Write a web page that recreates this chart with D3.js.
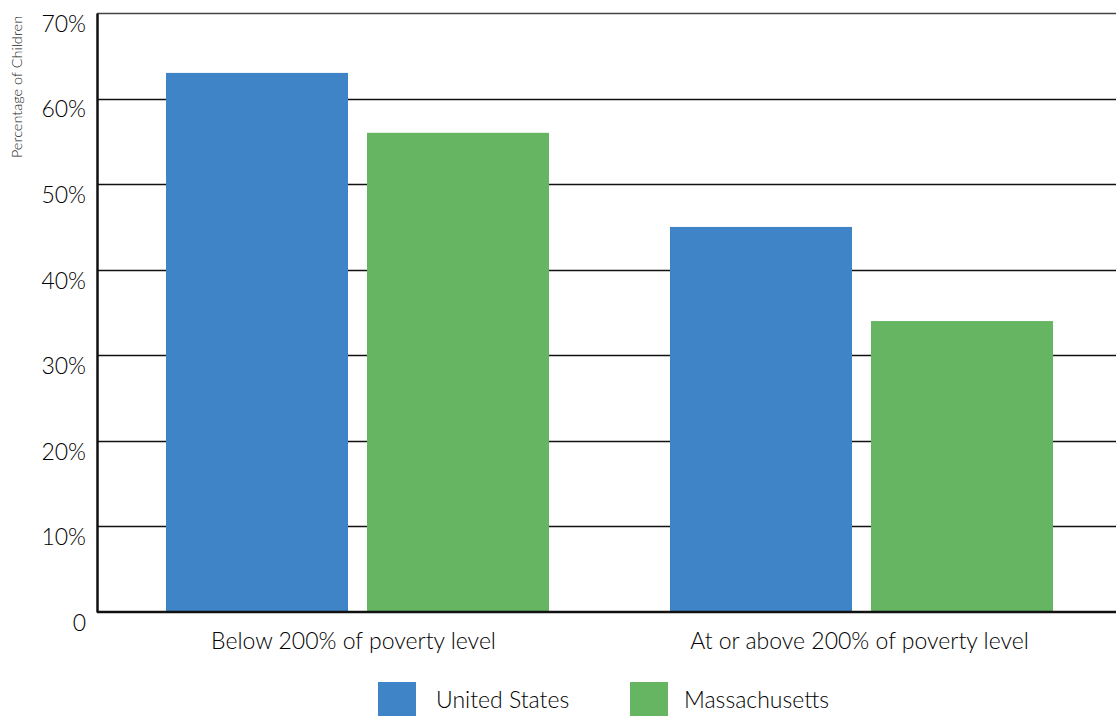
<!DOCTYPE html>
<html>
<head>
<meta charset="utf-8">
<script src="https://cdn.jsdelivr.net/npm/d3@7"></script>
<style>
  html, body { margin: 0; padding: 0; background: #fff; }
  svg { display: block; font-family: "Lato", "Open Sans", sans-serif; font-weight: 300; }
</style>
</head>
<body>
<svg id="chart" width="1117" height="716"></svg>
<script>
// Share of children, by family income relative to the poverty level
const categories = ["Below 200% of poverty level", "At or above 200% of poverty level"];
const seriesNames = ["United States", "Massachusetts"];
const unitedStates = [63, 45];
const massachusetts = [56, 34];
const yTicks = [0, 10, 20, 30, 40, 50, 60, 70];
const yTickLabels = ["0", "10%", "20%", "30%", "40%", "50%", "60%", "70%"];
const colors = ["#3f84c6", "#66b562"];

const svg = d3.select("#chart");
const margin = { top: 13, right: 1, bottom: 104, left: 97 };
const width = 1117 - margin.left - margin.right;
const height = 716 - margin.top - margin.bottom;

const g = svg.append("g").attr("transform", `translate(${margin.left},${margin.top})`);

const y = d3.scaleLinear().domain([0, 70]).range([height, 0]);
const x0 = d3.scaleBand().domain(categories).range([8.5, width - 2.5]).padding(0);
const x1 = d3.scaleBand().domain(seriesNames)
  .range([0, 383]).paddingInner(0.0945).paddingOuter(0);

const rows = categories.map((c, i) => ({
  category: c,
  values: [
    { series: seriesNames[0], value: unitedStates[i] },
    { series: seriesNames[1], value: massachusetts[i] }
  ]
}));

// horizontal gridlines
g.append("g").selectAll("line")
  .data(yTicks.filter(t => t > 0))
  .join("line")
  .attr("x1", 0).attr("x2", width)
  .attr("y1", d => Math.round(y(d)) + 0.5).attr("y2", d => Math.round(y(d)) + 0.5)
  .attr("stroke", d => d === 70 ? "#444" : "#111")
  .attr("stroke-width", 1.6);

// bars
const groups = g.append("g").selectAll("g")
  .data(rows)
  .join("g")
  .attr("transform", d => `translate(${x0(d.category) + (x0.bandwidth() - 383) / 2},0)`);

groups.selectAll("rect")
  .data(d => d.values)
  .join("rect")
  .attr("x", d => x1(d.series))
  .attr("width", x1.bandwidth())
  .attr("y", d => y(d.value))
  .attr("height", d => y(0) - y(d.value))
  .attr("fill", (d, i) => colors[i]);

// y axis
const yAxis = d3.axisLeft(y)
  .tickValues(yTicks)
  .tickFormat((d, i) => yTickLabels[i])
  .tickSize(0)
  .tickPadding(11);
const yAxisG = g.append("g").call(yAxis);
yAxisG.select(".domain").attr("stroke", "#111").attr("stroke-width", 2.5);
yAxisG.selectAll("text")
  .attr("dy", "0.8em")
  .attr("font-size", 23)
  .attr("font-family", "Lato, sans-serif")
  .attr("font-weight", 300)
  .attr("fill", "#000");

// baseline
g.append("line")
  .attr("x1", 0).attr("x2", width)
  .attr("y1", y(0)).attr("y2", y(0))
  .attr("stroke", "#111").attr("stroke-width", 2.5);

// x axis labels
const xAxis = d3.axisBottom(x0).tickSize(0).tickPadding(21);
const xAxisG = g.append("g").attr("transform", `translate(0,${height})`).call(xAxis);
xAxisG.select(".domain").remove();
xAxisG.selectAll("text")
  .attr("dx", (d, i) => i === 0 ? -4 : -2)
  .attr("font-size", 23)
  .attr("font-family", "Lato, sans-serif")
  .attr("font-weight", 300)
  .attr("fill", "#000");

// y axis title
svg.append("text")
  .attr("transform", "translate(22,87) rotate(-90)")
  .attr("text-anchor", "middle")
  .attr("font-size", 14.5)
  .attr("font-weight", 300)
  .attr("fill", "#222")
  .text("Percentage of Children");

// legend
const legend = svg.append("g").attr("transform", "translate(378,682)");
const legendPos = [0, 252];
const item = legend.selectAll("g")
  .data(seriesNames)
  .join("g")
  .attr("transform", (d, i) => `translate(${legendPos[i]},0)`);
item.append("rect")
  .attr("width", 38).attr("height", 36)
  .attr("fill", (d, i) => colors[i]);
item.append("text")
  .attr("x", (d, i) => i === 0 ? 58 : 54).attr("y", 18).attr("dy", "0.35em")
  .attr("font-size", 23)
  .attr("fill", "#000")
  .text(d => d);
</script>
</body>
</html>
